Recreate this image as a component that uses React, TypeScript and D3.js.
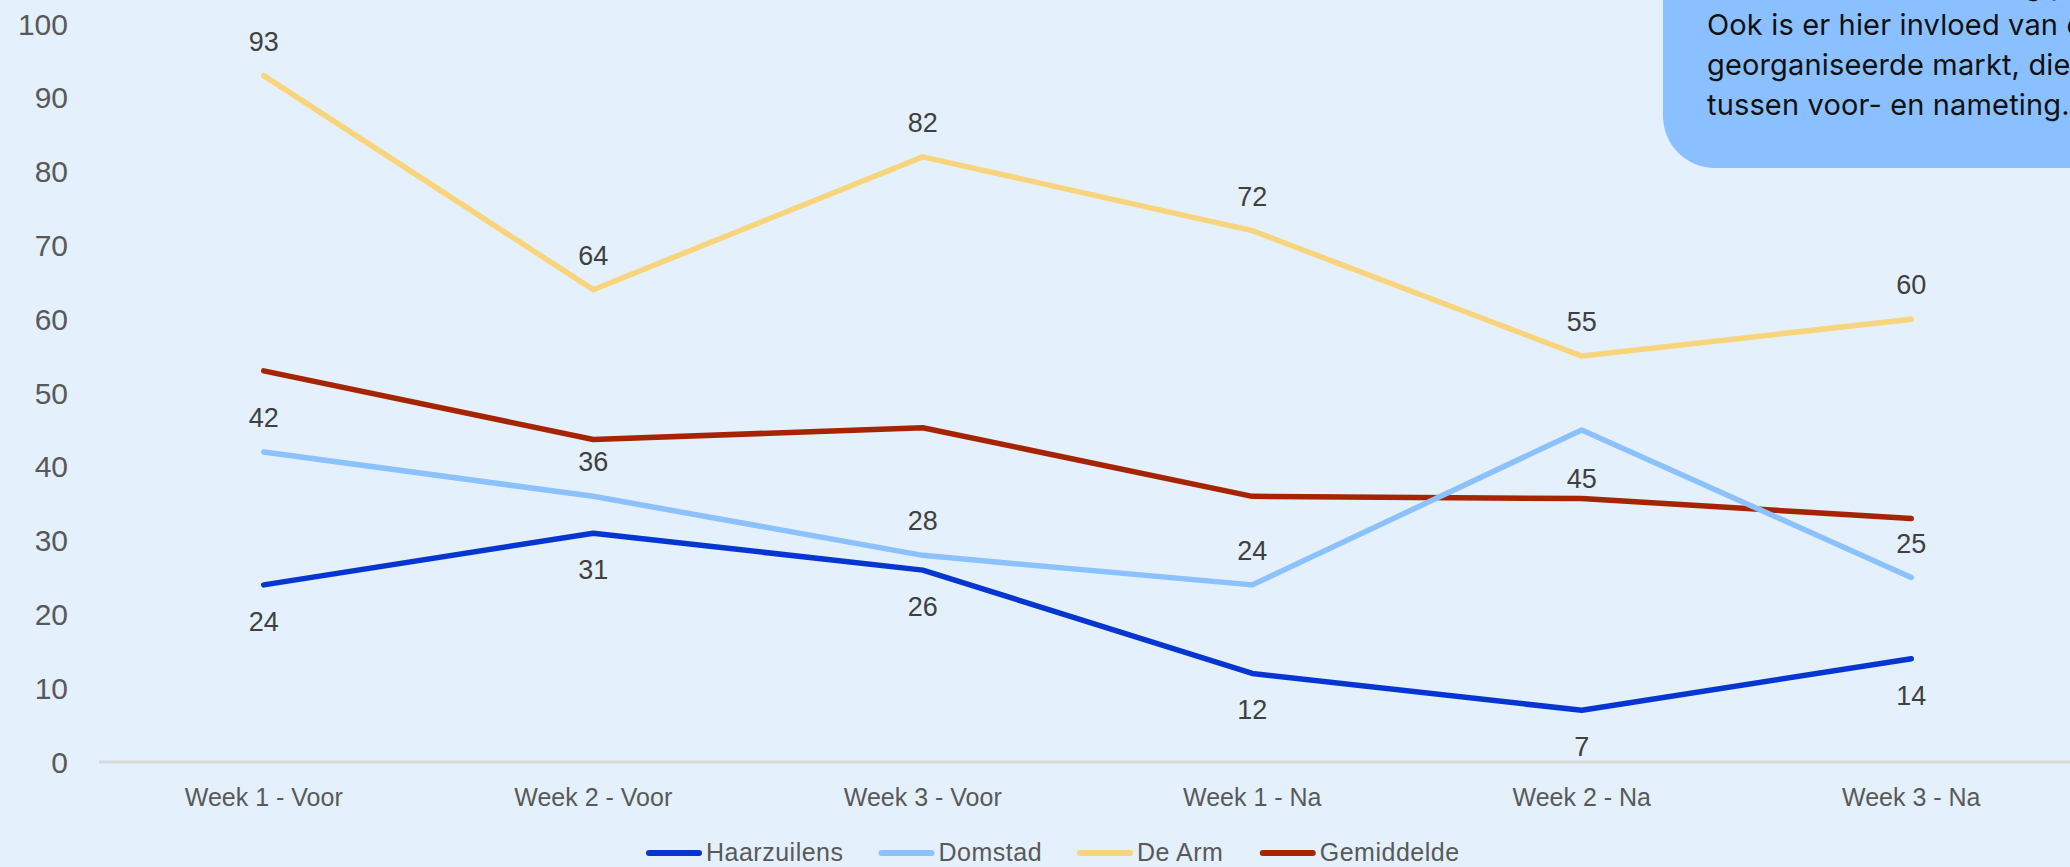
import React, { useMemo } from "react";
import * as d3 from "d3";

const categories = ["Week 1 - Voor", "Week 2 - Voor", "Week 3 - Voor", "Week 1 - Na", "Week 2 - Na", "Week 3 - Na"];
const haarzuilens = [24, 31, 26, 12, 7, 14];
const domstad = [42, 36, 28, 24, 45, 25];
const deArm = [93, 64, 82, 72, 55, 60];
const gemiddelde = [53, 43.7, 45.3, 36, 35.7, 33];
const yTicks = [0, 10, 20, 30, 40, 50, 60, 70, 80, 90, 100];

const haarzuilensLabelPos = ["below", "below", "below", "below", "below", "below"];
const domstadLabelPos = ["above", "above", "above", "above", "farBelow", "above"];
const deArmLabelPos = ["above", "above", "above", "above", "above", "above"];

const noteLines = [
  "De Arm toont een daling p",
  "Ook is er hier invloed van een",
  "georganiseerde markt, die",
  "tussen voor- en nameting.",
];

type Series = { name: string; values: number[]; color: string; labels: string[] | null };

const series: Series[] = [
  { name: "Haarzuilens", values: haarzuilens, color: "#0536D2", labels: haarzuilensLabelPos },
  { name: "Domstad", values: domstad, color: "#8CC1FF", labels: domstadLabelPos },
  { name: "De Arm", values: deArm, color: "#F8D57C", labels: deArmLabelPos },
  { name: "Gemiddelde", values: gemiddelde, color: "#A62400", labels: null },
];

const labelOffset: Record<string, number> = { above: -34, below: 37, farBelow: 49 };

const W = 2070;
const H = 867;
const FONT = "'Liberation Sans', Arial, sans-serif";
const LEGEND_SPACING = 0.5;

export default function App() {
  const x = d3.scalePoint<string>().domain(categories).range([99, 2076]).padding(0.5);
  const y = d3.scaleLinear().domain([0, 100]).range([762, 24]);
  const line = d3
    .line<number>()
    .x((_, i) => x(categories[i]) as number)
    .y((d) => y(d));

  const drawOrder = [series[3], series[0], series[1], series[2]];

  const legendLayout = useMemo(() => {
    const canvas = document.createElement("canvas");
    const ctx = canvas.getContext("2d")!;
    ctx.font = `25px ${FONT}`;
    let cx = 646;
    return series.map((s) => {
      const w = ctx.measureText(s.name).width + LEGEND_SPACING * s.name.length;
      const item = { s, lineX: cx, textX: cx + 60 };
      cx += 60 + w + 35;
      return item;
    });
  }, []);

  React.useEffect(() => {
    document.body.style.margin = "0";
    document.body.style.background = "#E4F0FC";
  }, []);

  return (
    <svg width={W} height={H} style={{ display: "block", background: "#E4F0FC" }}>
      <rect x={0} y={0} width={W} height={H} fill="#E4F0FC" />
      {yTicks.map((t) => (
        <text key={t} x={68} y={y(t)} textAnchor="end" dominantBaseline="central" fontFamily={FONT} fontSize={30} fill="#595959">
          {t}
        </text>
      ))}
      <line x1={99} x2={2076} y1={y(0)} y2={y(0)} stroke="#D9D9D9" strokeWidth={3} />
      {categories.map((c) => (
        <text key={c} x={x(c)} y={797} textAnchor="middle" dominantBaseline="central" fontFamily={FONT} fontSize={25} fill="#595959">
          {c}
        </text>
      ))}
      {drawOrder.map((s) => (
        <path key={s.name} d={line(s.values) || ""} fill="none" stroke={s.color} strokeWidth={5.5} strokeLinecap="round" strokeLinejoin="round" />
      ))}
      {series.map((s) =>
        s.labels
          ? s.values.map((v, i) => (
              <text
                key={s.name + i}
                x={x(categories[i])}
                y={y(v) + labelOffset[s.labels![i]]}
                textAnchor="middle"
                dominantBaseline="central"
                fontFamily={FONT}
                fontSize={27}
                fill="#404040"
              >
                {v}
              </text>
            ))
          : null
      )}
      {legendLayout.map(({ s, lineX, textX }) => (
        <g key={s.name}>
          <line x1={lineX + 3} x2={lineX + 53} y1={853} y2={853} stroke={s.color} strokeWidth={6} strokeLinecap="round" />
          <text x={textX} y={852} dominantBaseline="central" fontFamily={FONT} fontSize={25} letterSpacing={LEGEND_SPACING} fill="#595959">
            {s.name}
          </text>
        </g>
      ))}
      <rect x={1663} y={-120} width={600} height={288} rx={52} ry={52} fill="#8AC0FF" />
      {noteLines.map((l, i) => (
        <text key={i} x={1707} y={-5 + i * 40} fontFamily="Inter, 'Noto Sans', sans-serif" fontSize={29} letterSpacing={0.15} fill="#111111">
          {l}
        </text>
      ))}
    </svg>
  );
}
